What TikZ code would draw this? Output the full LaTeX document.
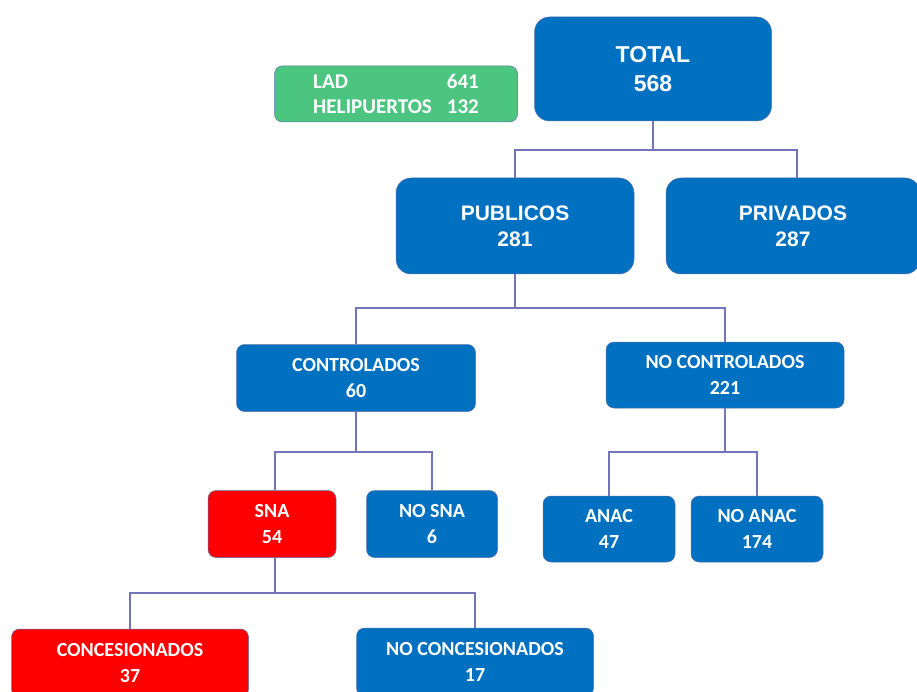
\documentclass[tikz,border=0pt]{standalone}
\usepackage{fontspec}
\setmainfont{Carlito}
\newfontfamily\arialfont{Liberation Sans}
\definecolor{boxblue}{HTML}{0070C0}
\definecolor{boxred}{HTML}{FF0000}
\definecolor{boxgreen}{HTML}{4CC580}
\definecolor{boxedge}{HTML}{5A6FA8}
\definecolor{linkcol}{HTML}{7474B8}
\begin{document}
\begin{tikzpicture}[x=1pt,y=-1pt,
  box/.style={rectangle, rounded corners=8pt, fill=boxblue, draw=boxedge, line width=0.5pt,
    text=white, align=center, inner sep=0pt,
    font=\bfseries\fontsize{20}{26}\selectfont},
  redbox/.style={box, fill=boxred},
  bigbox/.style={box, rounded corners=15pt, font=\arialfont\bfseries\fontsize{21}{26}\selectfont},
  link/.style={draw=linkcol, line width=1.2pt}]
\useasboundingbox (0,0) rectangle (917,692);
\clip (0,0) rectangle (917,692);

\node[bigbox, minimum width=237pt, minimum height=104pt, font=\arialfont\bfseries\fontsize{23}{29}\selectfont] (total) at (653,69) {TOTAL\\568};
\node[box, fill=boxgreen, minimum width=243pt, minimum height=56pt] (lad) at (396,94) {};
\node[text=white, inner sep=0pt, font=\bfseries\fontsize{21}{25}\selectfont] (ladtext) at (396,96)
  {\begin{tabular}{@{}l@{\hspace{15pt}}r@{}}LAD & 641\\[0pt] HELIPUERTOS & 132\end{tabular}};

\node[bigbox, minimum width=238pt, minimum height=96pt] (pub) at (515,226) {PUBLICOS\\281};
\node[bigbox, minimum width=254pt, minimum height=96pt] (priv) at (793,226) {PRIVADOS\\287};

\node[box, minimum width=239pt, minimum height=67pt] (ctrl) at (356,378) {CONTROLADOS\\60};
\node[box, minimum width=238pt, minimum height=66pt] (nctrl) at (725,375) {NO CONTROLADOS\\221};

\node[redbox, minimum width=128pt, minimum height=67pt] (sna) at (272,524) {SNA\\54};
\node[box, minimum width=131pt, minimum height=67pt] (nsna) at (432,524) {NO SNA\\6};
\node[box, minimum width=132pt, minimum height=66pt] (anac) at (609,529) {ANAC\\47};
\node[box, minimum width=132pt, minimum height=66pt] (nanac) at (757,529) {NO ANAC\\174};

\node[redbox, minimum width=237pt, minimum height=68pt] (conc) at (130,663) {CONCESIONADOS\\37};
\node[box, minimum width=237pt, minimum height=68pt] (nconc) at (475,662) {NO CONCESIONADOS\\17};

\coordinate (j1) at (653,150);
\coordinate (j2) at (515,308);
\coordinate (j3) at (356,452);
\coordinate (j4) at (725,452);
\coordinate (j5) at (275,593);

\draw[link] (total.south) -- (j1);
\draw[link] (j1) -| (pub.north);
\draw[link] (j1) -| ([xshift=4pt]priv.north);
\draw[link] (pub.south) -- (j2);
\draw[link] (j2) -| (ctrl.north);
\draw[link] (j2) -| (nctrl.north);
\draw[link] (ctrl.south) -- (j3);
\draw[link] (j3) -| ([xshift=3pt]sna.north);
\draw[link] (j3) -| (nsna.north);
\draw[link] (nctrl.south) -- (j4);
\draw[link] (j4) -| (anac.north);
\draw[link] (j4) -| (nanac.north);
\draw[link] ([xshift=3pt]sna.south) -- (j5);
\draw[link] (j5) -| (conc.north);
\draw[link] (j5) -| (nconc.north);
\end{tikzpicture}
\end{document}
